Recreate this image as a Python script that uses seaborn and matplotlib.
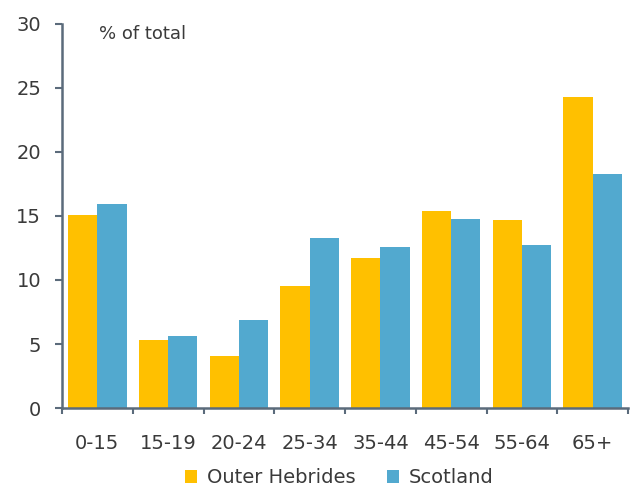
import matplotlib
matplotlib.use("Agg")
import matplotlib.pyplot as plt
import seaborn as sns
import pandas as pd
from matplotlib.ticker import FixedLocator

categories = ["0-15", "15-19", "20-24", "25-34", "35-44", "45-54", "55-64", "65+"]
outer_hebrides = [15.1, 5.3, 4.1, 9.5, 11.7, 15.4, 14.7, 24.3]
scotland = [15.9, 5.6, 6.9, 13.3, 12.6, 14.8, 12.7, 18.3]
series_names = ["Outer Hebrides", "Scotland"]
yticks = [0, 5, 10, 15, 20, 25, 30]

df = pd.DataFrame({
    "age": categories * 2,
    "value": outer_hebrides + scotland,
    "series": [series_names[0]] * len(categories) + [series_names[1]] * len(categories),
})

sns.set_theme(style="white")
plt.rcParams["font.family"] = ["DejaVu Sans"]

fig = plt.figure(figsize=(6.37, 4.92), dpi=100)
ax = fig.add_axes([62/637, 1 - 408/492, (628 - 62)/637, (408 - 24)/492])

palette = {"Outer Hebrides": "#FFC000", "Scotland": "#52A9CF"}
sns.barplot(data=df, x="age", y="value", hue="series", palette=palette,
            width=0.83, gap=0, saturation=1, ax=ax, legend=True,
            linewidth=0, edgecolor="none")

ax.set_ylim(0, 30)
ax.set_xlim(-0.5, len(categories) - 0.5)
ax.set_yticks(yticks)
ax.set_xlabel("")
ax.set_ylabel("")

axis_col = "#5B6B7B"
txt_col = "#3a3a3a"
for s in ["top", "right"]:
    ax.spines[s].set_visible(False)
for s in ["left", "bottom"]:
    ax.spines[s].set_color(axis_col)
    ax.spines[s].set_linewidth(1.8)

ax.tick_params(axis="y", which="major", length=5, width=1.5, color=axis_col,
               labelsize=14, labelcolor=txt_col, pad=10, left=True)
ax.tick_params(axis="x", which="major", length=0, labelsize=14,
               labelcolor=txt_col, pad=19)
ax.xaxis.set_minor_locator(FixedLocator([i - 0.5 for i in range(len(categories) + 1)]))
ax.tick_params(axis="x", which="minor", length=4, width=1.5, color=axis_col, bottom=True)

ax.text(0.066, 0.975, "% of total", transform=ax.transAxes, fontsize=13,
        color=txt_col, va="center", ha="left")

leg = ax.legend(loc="center", bbox_to_anchor=(0.49, -0.182), ncol=2, frameon=False,
                fontsize=14, handlelength=0.65, handleheight=0.65, handletextpad=0.5,
                columnspacing=1.6, borderpad=0, borderaxespad=0)
for t in leg.get_texts():
    t.set_color(txt_col)

fig.savefig("out.png", dpi=100, facecolor="white")
